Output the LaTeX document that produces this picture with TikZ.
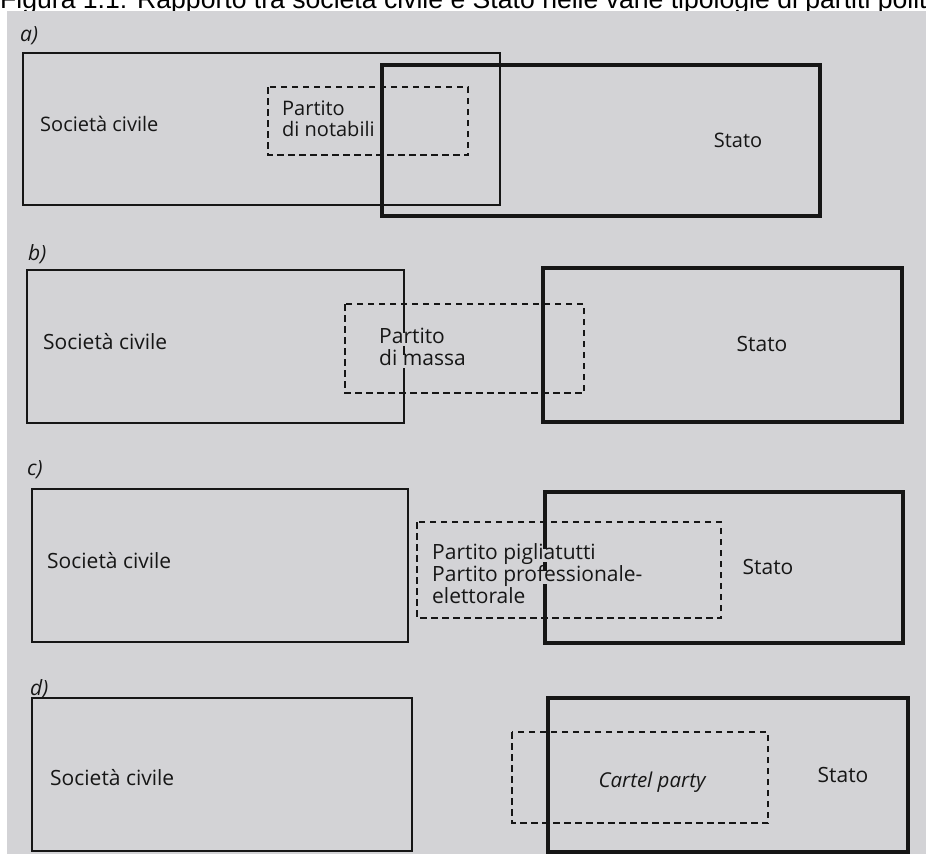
\documentclass[tikz,border=0pt]{standalone}
\usepackage{fontspec}
\setmainfont{Open Sans}
\newfontfamily\titlefont{Liberation Sans}
\definecolor{bg}{RGB}{211,211,214}
\definecolor{ink}{RGB}{22,22,22}
\begin{document}
\begin{tikzpicture}[x=1pt,y=-1pt,line join=miter,
  soc/.style={draw=ink,line width=1.9pt},
  sta/.style={draw=ink,line width=3.2pt},
  party/.style={draw=ink,line width=1.9pt,dash pattern=on 6.5pt off 4.5pt},
  lab/.style={anchor=base west,inner sep=0pt,text=ink,font=\fontsize{21}{21}\selectfont\itshape},
  txt/.style={anchor=base west,inner sep=0pt,text=ink,font=\fontsize{21}{21}\selectfont},
  txta/.style={txt,font=\fontsize{20}{20}\selectfont},
  ctxt/.style={txt,anchor=base},
  ctxta/.style={txta,anchor=base},
  cover/.style={fill=bg,inner xsep=2pt,xshift=-2pt,inner ysep=2pt,text height=0.8em,text depth=0.1em}
]
\useasboundingbox (0,0) rectangle (926,854);
\clip (0,0) rectangle (926,854);
\fill[white] (0,0) rectangle (926,854);
\node[anchor=base west,inner sep=0pt,font=\titlefont\fontsize{26.6}{26.6}\selectfont] (title) at (0,8)
  {Figura 1.1: Rapporto tra società civile e Stato nelle varie tipologie di partiti politici};
\fill[bg] (7,11) rectangle (926,854);

% panel a
\node[lab] (la) at (20,41) {a)};
\draw[soc] (23,53) rectangle (500,205);
\draw[sta] (382,65) rectangle (820,216);
\draw[party] (268,87) rectangle (468,155);
\node[txta] (socA) at (40,131.7) {Società civile};
\node[txta] (pA1) at (282,115) {Partito};
\node[txta,cover,inner ysep=3pt] (pA2) at (282,136.7) {di notabili\kern3pt};
\node[ctxta] (staA) at (738,147.5) {Stato};

% panel b
\node[lab] (lb) at (28,260) {b)};
\draw[soc] (27,270) rectangle (404,423);
\draw[sta] (543,268) rectangle (902,422);
\draw[party] (345,304) rectangle (584,393);
\node[txt] (socB) at (43,349) {Società civile};
\node[txt,cover] (pB1) at (379,343) {Partito};
\node[txt,cover] (pB2) at (379,365) {di massa};
\node[ctxt] (staB) at (762,351.7) {Stato};

% panel c
\node[lab] (lc) at (27,475) {c)};
\draw[soc] (32,489) rectangle (408,642);
\draw[sta] (545,492) rectangle (903,643);
\draw[party] (417,522) rectangle (721,618);
\node[txt] (socC) at (47,568) {Società civile};
\node[txt,cover] (pC1) at (432,559.3) {Partito pigliatutti};
\node[txt,cover] (pC2) at (432,581) {Partito professionale-};
\node[txt] (pC3) at (432,603.3) {elettorale};
\node[ctxt] (staC) at (768,574.3) {Stato};

% panel d
\node[lab] (ld) at (30,695) {d)};
\draw[soc] (32,698) rectangle (412,851);
\draw[sta] (548,698) rectangle (908,852);
\draw[party] (512,732) rectangle (768,823);
\node[txt] (socD) at (50,785) {Società civile};
\node[ctxt,font=\fontsize{20.5}{20.5}\selectfont\itshape] (cartel) at (652,787) {Cartel party};
\node[ctxt] (staD) at (843,782) {Stato};
\end{tikzpicture}
\end{document}
